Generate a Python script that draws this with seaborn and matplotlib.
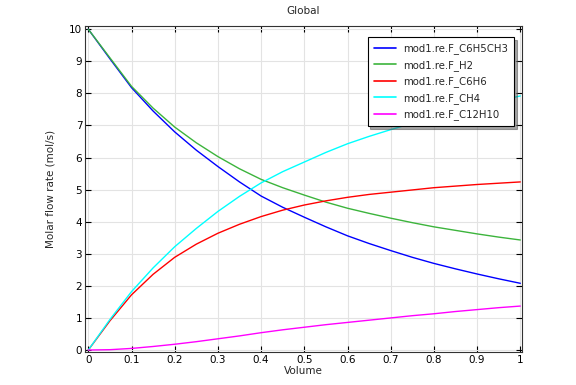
import pandas as pd
import numpy as np
import seaborn as sns
import matplotlib.pyplot as plt

# values
volume = [0, 0.05, 0.1, 0.15, 0.2, 0.25, 0.3, 0.35, 0.4, 0.45, 0.5, 0.55,
          0.6, 0.65, 0.7, 0.75, 0.8, 0.85, 0.9, 0.95, 1.0]
f_c6h5ch3 = [10, 9.08, 8.18, 7.45, 6.80, 6.23, 5.72, 5.24, 4.80, 4.45, 4.14, 3.84,
             3.56, 3.32, 3.10, 2.89, 2.70, 2.53, 2.37, 2.22, 2.08]
f_h2 = [10, 9.11, 8.22, 7.54, 6.95, 6.46, 6.03, 5.65, 5.32, 5.06, 4.83, 4.61,
        4.42, 4.26, 4.11, 3.97, 3.84, 3.73, 3.62, 3.52, 3.43]
f_c6h6 = [0, 0.91, 1.72, 2.36, 2.89, 3.30, 3.64, 3.92, 4.16, 4.36, 4.52, 4.65,
          4.76, 4.85, 4.92, 4.99, 5.06, 5.11, 5.16, 5.20, 5.24]
f_ch4 = [0, 0.95, 1.82, 2.56, 3.22, 3.79, 4.32, 4.79, 5.21, 5.56, 5.86, 6.16,
         6.43, 6.66, 6.87, 7.07, 7.27, 7.44, 7.61, 7.77, 7.92]
f_c12h10 = [0, 0.01, 0.05, 0.11, 0.18, 0.26, 0.35, 0.44, 0.54, 0.63, 0.71, 0.79,
            0.86, 0.93, 1.00, 1.07, 1.13, 1.20, 1.26, 1.32, 1.37]

names = ["mod1.re.F_C6H5CH3", "mod1.re.F_H2", "mod1.re.F_C6H6",
         "mod1.re.F_CH4", "mod1.re.F_C12H10"]
colors = ["#0000ff", "#3cb43c", "#ff0000", "#00ffff", "#ff00ff"]

frames = []
for name, vals in zip(names, [f_c6h5ch3, f_h2, f_c6h6, f_ch4, f_c12h10]):
    frames.append(pd.DataFrame({"Volume": volume, "flow": vals, "series": name}))
df = pd.concat(frames, ignore_index=True)

sns.set_style("white")
plt.rcParams["font.family"] = ["DejaVu Sans"]

fig = plt.figure(figsize=(5.76, 3.85), dpi=100)
ax = fig.add_axes([0.1476, 0.0857, 0.7587, 0.8467])

sns.lineplot(data=df, x="Volume", y="flow", hue="series", hue_order=names,
             palette=colors, linewidth=1.0, ax=ax)

ax.set_xlim(-0.0076, 1.004)
ax.set_ylim(-0.062, 10.10)
ax.set_xticks(np.arange(0, 1.01, 0.1))
ax.set_xticklabels(["0", "0.1", "0.2", "0.3", "0.4", "0.5", "0.6", "0.7", "0.8", "0.9", "1"])
ax.set_yticks(range(0, 11))
ax.grid(True, color="#e3e3e3", linewidth=0.8)
ax.set_axisbelow(True)
ax.tick_params(direction="in", length=4, width=0.8, labelsize=7.5,
               top=True, right=True, bottom=True, left=True, pad=2, colors="black")
for s in ax.spines.values():
    s.set_color("#333333")
    s.set_linewidth(0.8)

ax.set_title("Global", fontsize=7.5, pad=9)
ax.set_xlabel("Volume", fontsize=7.5, labelpad=1)
ax.set_ylabel("Molar flow rate (mol/s)", fontsize=7.5, labelpad=10)

leg = ax.legend(loc="upper right", bbox_to_anchor=(0.982, 0.966), borderaxespad=0,
                fontsize=7.3, frameon=True, fancybox=False, shadow=True, borderpad=0.6,
                handlelength=2.2, labelspacing=0.55, handletextpad=0.7)
leg.get_frame().set_edgecolor("black")
leg.get_frame().set_linewidth(0.8)
for line in leg.get_lines():
    line.set_linewidth(1.2)

fig.savefig("out.png", dpi=100)
